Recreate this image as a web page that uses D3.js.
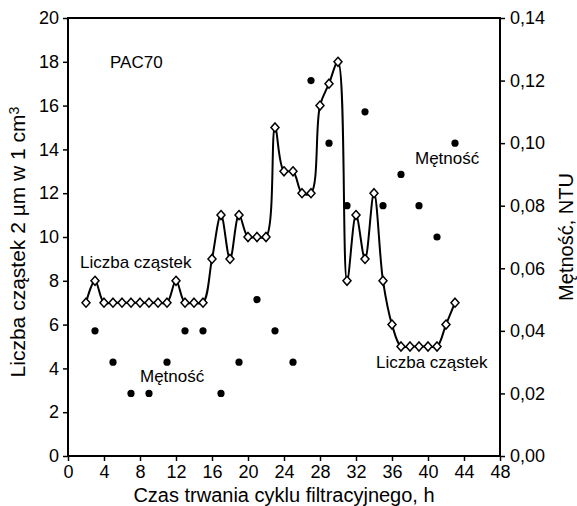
<!DOCTYPE html>
<html>
<head>
<meta charset="utf-8">
<script src="https://cdn.jsdelivr.net/npm/d3@7"></script>
<style>
  body { margin: 0; background: #fff; }
  svg text { font-family: "Liberation Sans", Arial, sans-serif; fill: #000; }
</style>
</head>
<body>
<div class="chart"></div>
<script>
// Data
const hours = [2, 3, 4, 5, 6, 7, 8, 9, 10, 11, 12, 13, 14, 15, 16, 17, 18, 19, 20, 21, 22,
	23, 24, 25, 26, 27, 28, 29, 30, 31, 32, 33, 34, 35, 36, 37, 38, 39, 40, 41, 42, 43];
const particles = [7, 8, 7, 7, 7, 7, 7, 7, 7, 7, 8, 7, 7, 7, 9, 11, 9, 11, 10, 10, 10,
	15, 13, 13, 12, 12, 16, 17, 18, 8, 11, 9, 12, 8, 6, 5, 5, 5, 5, 5, 6, 7];
const turbHours = [3, 5, 7, 9, 11, 13, 15, 17, 19, 21, 23, 25, 27, 29, 31, 33, 35, 37, 39, 41, 43];
const turbidity = [0.04, 0.03, 0.02, 0.02, 0.03, 0.04, 0.04, 0.02, 0.03, 0.05, 0.04,
	0.03, 0.12, 0.10, 0.08, 0.11, 0.08, 0.09, 0.08, 0.07, 0.10];
const xTicks = d3.range(0, 49, 4);
const yTicks = d3.range(0, 21, 2);
const y2Ticks = [0, 0.02, 0.04, 0.06, 0.08, 0.10, 0.12, 0.14];

// Dimensions
const W = 577, H = 506;
const margin = {top: 18, right: 77, bottom: 50, left: 68};
const width = W - margin.left - margin.right;
const height = H - margin.top - margin.bottom;

// Scales
const xScale = d3.scaleLinear().domain([0, 48]).range([0, width]);
const yScale = d3.scaleLinear().domain([0, 20]).range([height, 0]);
const y2Scale = d3.scaleLinear().domain([0, 0.14]).range([height, 0]);

const svg = d3.select('.chart')
	.append('svg')
	.attr('width', W)
	.attr('height', H)
	.append('g')
	.attr('transform', `translate(${margin.left}, ${margin.top})`);

const tickFs = 18;
const titleFs = 20;
const comma = d3.format('.2f');

// Axes
function styleAxis(g) {
	g.select('.domain').remove();
	g.selectAll('.tick line').attr('stroke', '#000').attr('stroke-width', 1.5);
	g.selectAll('.tick text').style('font-size', tickFs + 'px').attr('fill', '#000');
}

svg.append('g')
	.attr('transform', `translate(0, ${height})`)
	.call(d3.axisBottom(xScale).tickValues(xTicks).tickSize(5).tickPadding(4))
	.call(styleAxis);

svg.append('g')
	.call(d3.axisLeft(yScale).tickValues(yTicks).tickSize(5).tickPadding(4))
	.call(styleAxis);

svg.append('g')
	.attr('transform', `translate(${width}, 0)`)
	.call(d3.axisRight(y2Scale).tickValues(y2Ticks).tickSize(5).tickPadding(5)
		.tickFormat(d => comma(d).replace('.', ',')))
	.call(styleAxis);

// Frame
svg.append('path')
	.attr('d', `M0,0H${width}V${height}H0Z`)
	.attr('fill', 'none')
	.attr('stroke', '#000')
	.attr('stroke-width', 2);

// Axis titles
svg.append('text')
	.attr('x', width / 2)
	.attr('y', height + 46)
	.attr('text-anchor', 'middle')
	.style('font-size', titleFs + 'px')
	.text('Czas trwania cyklu filtracyjnego, h');

const yt = svg.append('text')
	.attr('transform', `translate(${-43}, ${height / 2 + 5}) rotate(-90)`)
	.attr('text-anchor', 'middle')
	.style('font-size', '21px');
yt.append('tspan').text('Liczba cząstek 2 µm w 1 cm');
yt.append('tspan').attr('dy', '-0.45em').style('font-size', '14px').text('3');

svg.append('text')
	.attr('transform', `translate(${width + 73}, ${height / 2}) rotate(-90)`)
	.attr('text-anchor', 'middle')
	.style('font-size', titleFs + 'px')
	.text('Mętność, NTU');

// Particle line
const line = d3.line()
	.x((d, i) => xScale(hours[i]))
	.y(d => yScale(d))
	.curve(d3.curveCatmullRom.alpha(0.5));

svg.append('path')
	.datum(particles)
	.attr('d', line)
	.attr('fill', 'none')
	.attr('stroke', '#000')
	.attr('stroke-width', 2);

svg.append('g')
	.selectAll('path')
	.data(particles)
	.join('path')
	.attr('transform', (d, i) => `translate(${xScale(hours[i])}, ${yScale(d)})`)
	.attr('d', 'M0,-4.5L4,0L0,4.5L-4,0Z')
	.attr('fill', '#fff')
	.attr('stroke', '#000')
	.attr('stroke-width', 1.5);

// Turbidity dots
svg.append('g')
	.selectAll('circle')
	.data(turbidity)
	.join('circle')
	.attr('cx', (d, i) => xScale(turbHours[i]))
	.attr('cy', d => y2Scale(d))
	.attr('r', 3.6)
	.attr('fill', '#000');

// Annotations
function note(x, y, t) {
	svg.append('text')
		.attr('x', x - margin.left)
		.attr('y', y - margin.top)
		.style('font-size', '17px')
		.text(t);
}
note(110, 68, 'PAC70');
note(80, 268, 'Liczba cząstek');
note(140, 382, 'Mętność');
note(415, 164, 'Mętność');
note(376, 368, 'Liczba cząstek');
</script>
</body>
</html>
